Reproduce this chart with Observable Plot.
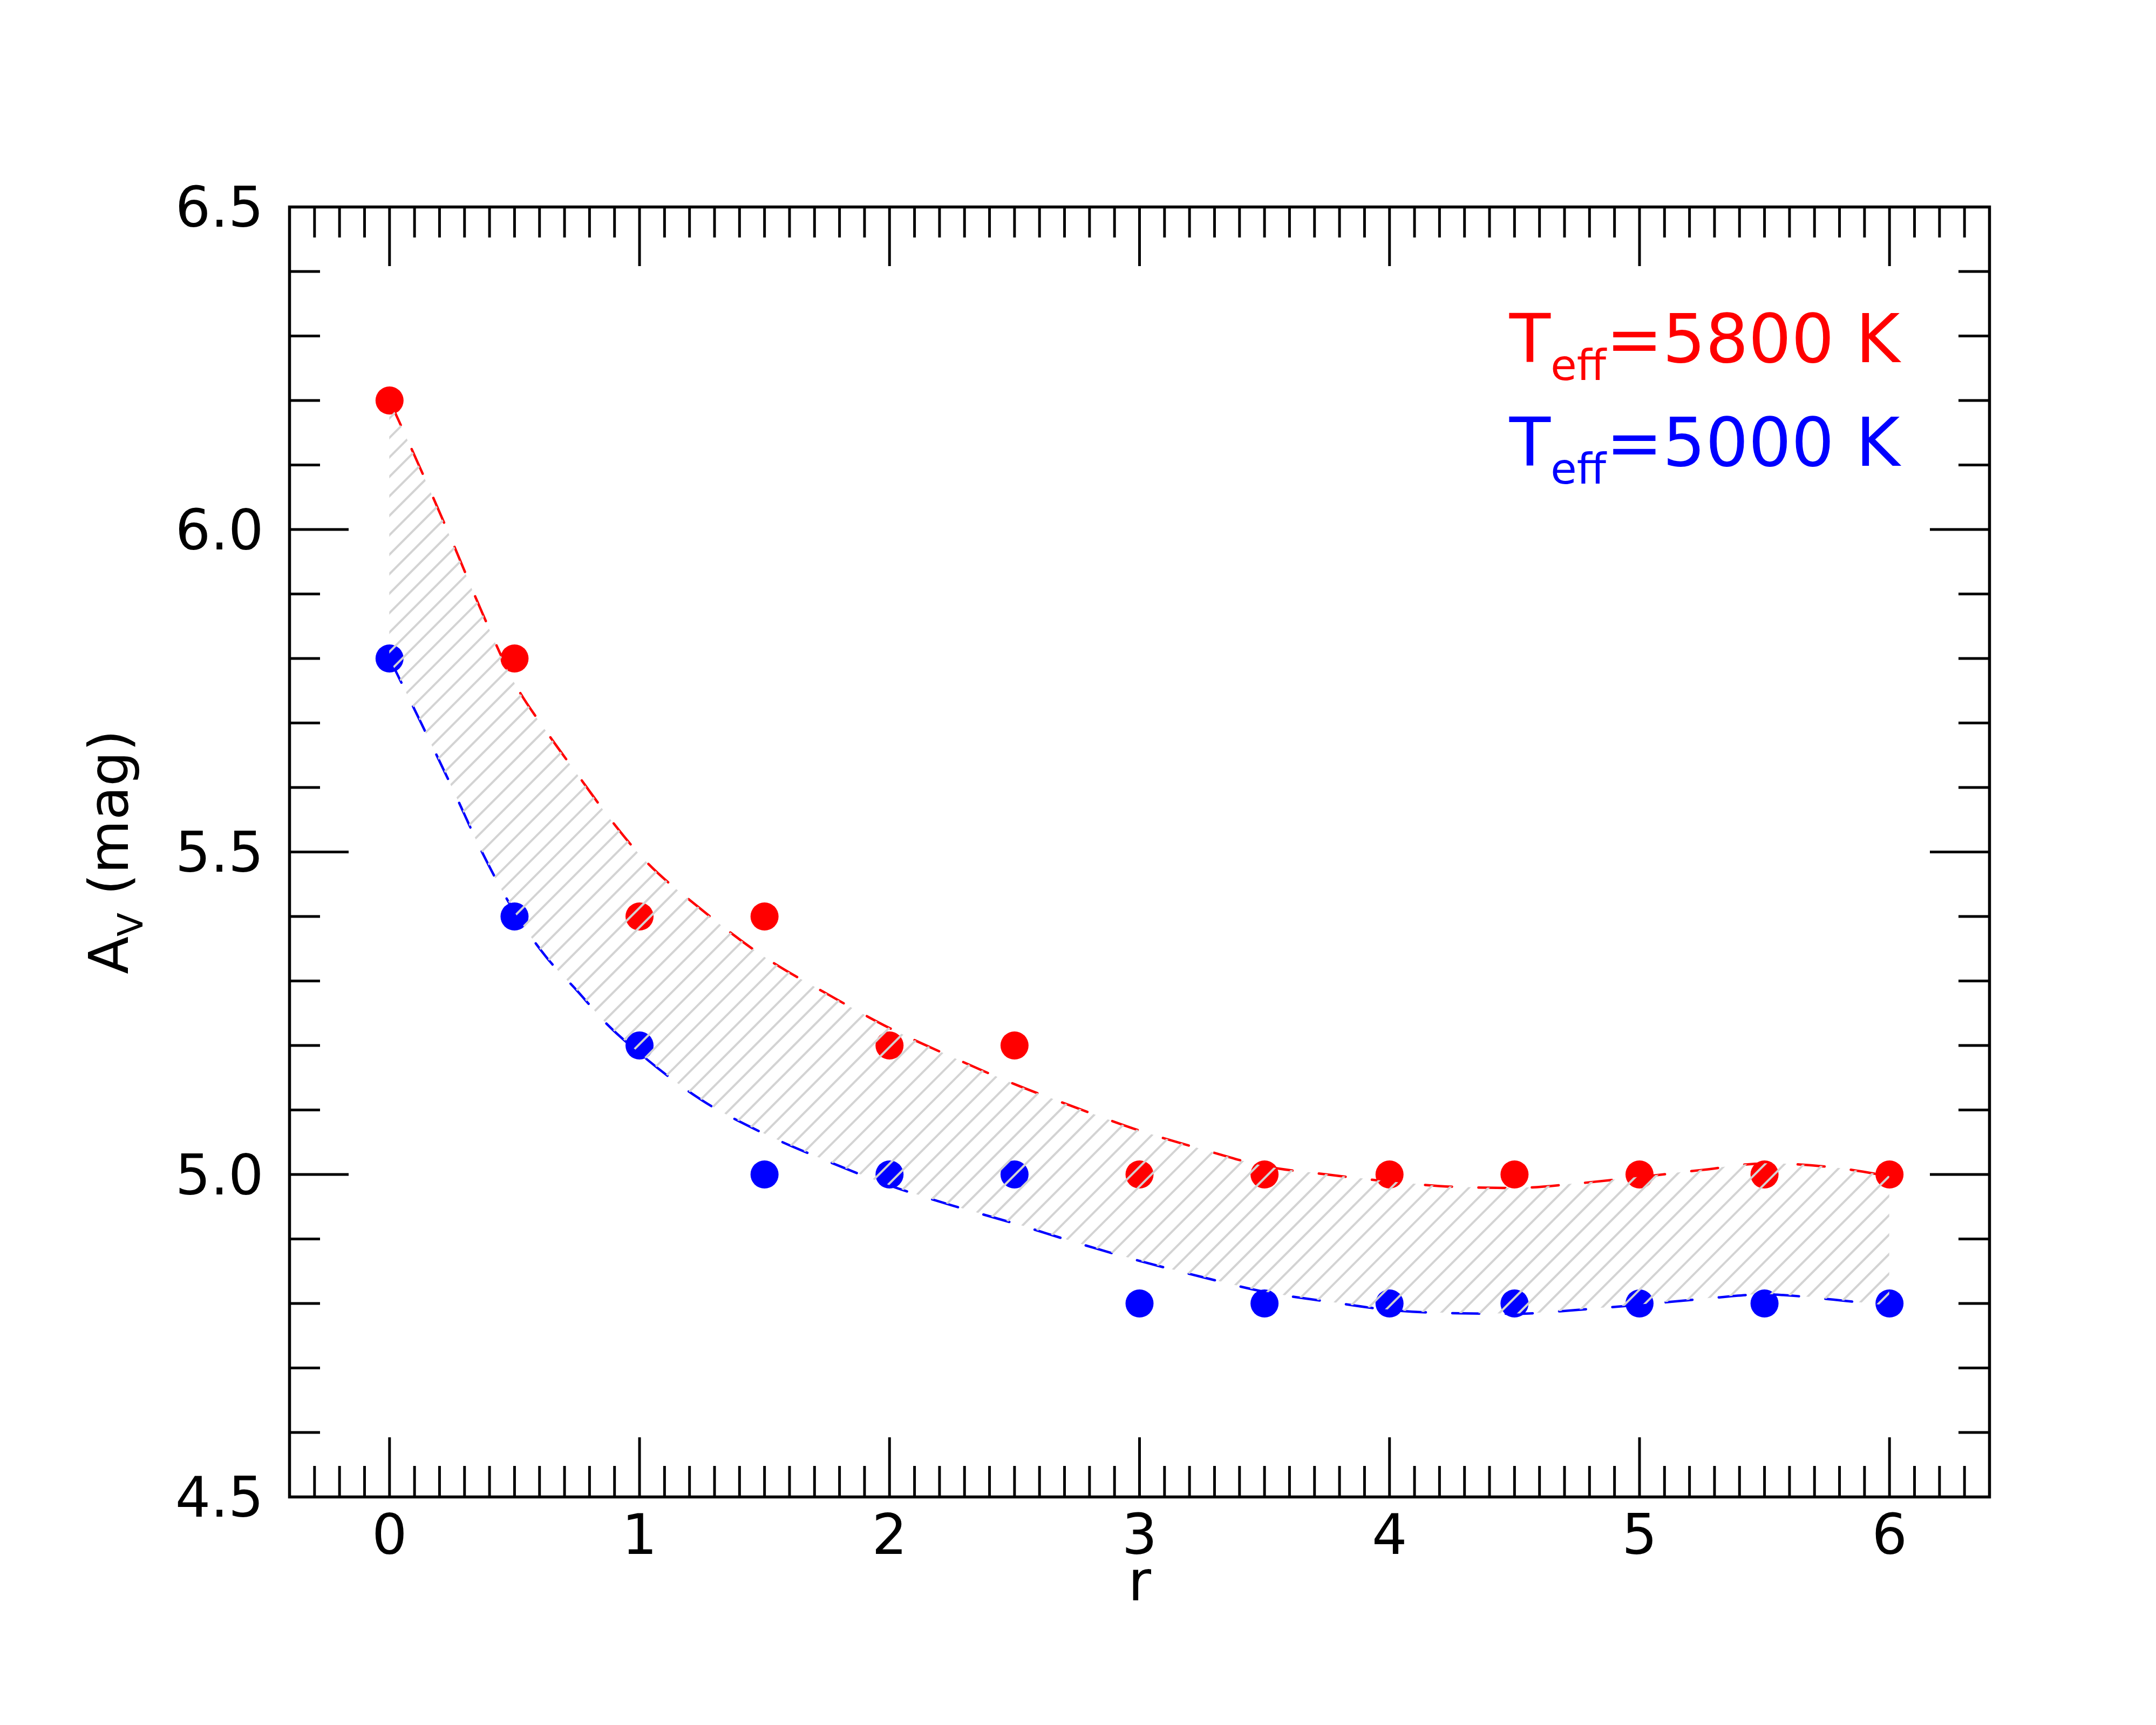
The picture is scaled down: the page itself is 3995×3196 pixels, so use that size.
<!DOCTYPE html>
<html>
<head>
<meta charset="utf-8">
<script src="https://cdn.jsdelivr.net/npm/d3@7"></script>
<script src="https://cdn.jsdelivr.net/npm/@observablehq/plot@0.6"></script>
<style>
  html, body { margin: 0; padding: 0; background: white; }
  svg { display: block; }
</style>
</head>
<body>
<script>
// ---- data ----
const rValues = [0, 0.5, 1, 1.5, 2, 2.5, 3, 3.5, 4, 4.5, 5, 5.5, 6];
const av5800 = [6.2, 5.8, 5.4, 5.4, 5.2, 5.2, 5.0, 5.0, 5.0, 5.0, 5.0, 5.0, 5.0];
const av5000 = [5.8, 5.4, 5.2, 5.0, 5.0, 5.0, 4.8, 4.8, 4.8, 4.8, 4.8, 4.8, 4.8];

// dashed fitted curves
const fitR = [0, 0.125, 0.25, 0.375, 0.5, 0.625, 0.75, 0.875, 1,
  1.25, 1.5, 1.75, 2, 2.25, 2.5, 2.75, 3, 3.25, 3.5, 3.75, 4, 4.25, 4.5, 4.75, 5, 5.25, 5.5, 5.75, 6];
const fit5800 = [6.20, 6.093, 5.982, 5.867, 5.762, 5.688, 5.621, 5.555, 5.496,
  5.41, 5.337, 5.28, 5.227, 5.182, 5.14, 5.103, 5.068, 5.039, 5.013, 5.0, 4.989, 4.981, 4.979, 4.986, 4.996, 5.007, 5.017, 5.012, 4.997];
const fit5000 = [5.80, 5.701, 5.60, 5.496, 5.407, 5.338, 5.285, 5.231, 5.188,
  5.115, 5.063, 5.021, 4.983, 4.952, 4.924, 4.894, 4.866, 4.841, 4.818, 4.803, 4.79, 4.785, 4.784, 4.79, 4.798, 4.807, 4.814, 4.807, 4.796];

// axes
const xDomain = [-0.4, 6.4];
const yDomain = [4.5, 6.5];
const xMajor = [0, 1, 2, 3, 4, 5, 6];
const xMinor = d3.range(-3, 64).filter(i => i % 10 !== 0).map(i => i / 10);
const yMajor = [4.5, 5.0, 5.5, 6.0, 6.5];
const yMinor = d3.range(46, 65).filter(i => i % 5 !== 0).map(i => i / 10);

// legend / labels
const legendHot = {base: "T", sub: "eff", rest: "=5800 K", color: "#ff0000"};
const legendCool = {base: "T", sub: "eff", rest: "=5000 K", color: "#0000ff"};
const yLabel = {base: "A", sub: "V", rest: " (mag)"};
const xLabel = "r";

// ---- build tables ----
const points = rValues.map((r, i) => ({r, hot: av5800[i], cool: av5000[i]}));
const fit = fitR.map((r, i) => ({r, hot: fit5800[i], cool: fit5000[i]}));
const full = d => d.base + d.sub + d.rest;

// ---- layout ----
const W = 3995, H = 3196;
const mL = 536, mR = 309, mT = 383, mB = 423;
const pw = W - mL - mR, ph = H - mT - mB;
const majorLen = 110, minorLen = 57;
const tickW = 5;

const svg = Plot.plot({
  width: W, height: H,
  marginLeft: mL, marginRight: mR, marginTop: mT, marginBottom: mB,
  x: {domain: xDomain, axis: null, label: null},
  y: {domain: yDomain, axis: null, label: null},
  style: {fontFamily: "DejaVu Sans", background: "white", color: "black", overflow: "visible"},
  marks: [
    // fitted dashed curves
    Plot.line(fit, {x: "r", y: "hot", stroke: "#ff0000", strokeWidth: 4.5, strokeDasharray: "50,49", curve: "monotone-x"}),
    Plot.line(fit, {x: "r", y: "cool", stroke: "#0000ff", strokeWidth: 4.5, strokeDasharray: "50,49", curve: "monotone-x"}),
    // points
    Plot.dot(points, {x: "r", y: "hot", r: 26, fill: "#ff0000"}),
    Plot.dot(points, {x: "r", y: "cool", r: 26, fill: "#0000ff"}),
    // hatched band between the two curves
    Plot.areaY(fit, {x: "r", y1: "cool", y2: "hot", fill: "url(#hatch)", curve: "monotone-x"}),
    // inward ticks on all four sides
    Plot.tickX(xMajor, {x: d => d, insetTop: ph - majorLen, stroke: "black", strokeWidth: tickW}),
    Plot.tickX(xMinor, {x: d => d, insetTop: ph - minorLen, stroke: "black", strokeWidth: tickW}),
    Plot.tickX(xMajor, {x: d => d, insetBottom: ph - majorLen, stroke: "black", strokeWidth: tickW}),
    Plot.tickX(xMinor, {x: d => d, insetBottom: ph - minorLen, stroke: "black", strokeWidth: tickW}),
    Plot.tickY(yMajor, {y: d => d, insetRight: pw - majorLen, stroke: "black", strokeWidth: tickW}),
    Plot.tickY(yMinor, {y: d => d, insetRight: pw - minorLen, stroke: "black", strokeWidth: tickW}),
    Plot.tickY(yMajor, {y: d => d, insetLeft: pw - majorLen, stroke: "black", strokeWidth: tickW}),
    Plot.tickY(yMinor, {y: d => d, insetLeft: pw - minorLen, stroke: "black", strokeWidth: tickW}),
    Plot.frame({stroke: "black", strokeWidth: 5.5}),
    // tick labels
    Plot.axisX(xMajor, {anchor: "bottom", label: null, tickSize: 0, tickPadding: 32, fontSize: 103, tickFormat: d => String(d)}),
    Plot.axisY(yMajor, {anchor: "left", label: null, tickSize: 0, tickPadding: 48, fontSize: 103, dy: 4, tickFormat: d3.format(".1f")}),
    // axis labels
    Plot.text([xLabel], {text: d => d, frameAnchor: "bottom", lineAnchor: "bottom", dy: 191, fontSize: 104, fill: "black"}),
    Plot.text([yLabel], {text: full, frameAnchor: "left", rotate: -90, lineAnchor: "bottom", textAnchor: "middle", dx: -300, fontSize: 102, fill: "black"}),
    // legend
    Plot.text([legendHot], {text: full, frameAnchor: "top-right", textAnchor: "end", lineAnchor: "bottom", dx: -166, dy: 287, fill: d => d.color, fontSize: 125}),
    Plot.text([legendCool], {text: full, frameAnchor: "top-right", textAnchor: "end", lineAnchor: "bottom", dx: -166, dy: 479, fill: d => d.color, fontSize: 125})
  ]
});

document.body.appendChild(svg);

// hatch pattern
const ns = "http://www.w3.org/2000/svg";
const defs = document.createElementNS(ns, "defs");
const pat = document.createElementNS(ns, "pattern");
pat.setAttribute("id", "hatch");
pat.setAttribute("patternUnits", "userSpaceOnUse");
pat.setAttribute("width", "25.5");
pat.setAttribute("height", "25.5");
pat.setAttribute("patternTransform", "rotate(45)");
const ln = document.createElementNS(ns, "line");
ln.setAttribute("x1", "12.75"); ln.setAttribute("y1", "-2");
ln.setAttribute("x2", "12.75"); ln.setAttribute("y2", "27.5");
ln.setAttribute("stroke", "#d3d3d3");
ln.setAttribute("stroke-width", "4");
pat.appendChild(ln);
defs.appendChild(pat);
svg.insertBefore(defs, svg.firstChild);

// subscripts as real tspans
function subscriptify(textEl, parts, fs) {
  const shift = 0.27 * fs;
  while (textEl.firstChild) textEl.removeChild(textEl.firstChild);
  textEl.appendChild(document.createTextNode(parts.base));
  const s = document.createElementNS(ns, "tspan");
  s.setAttribute("font-size", (0.63 * fs).toFixed(1));
  s.setAttribute("dy", shift.toFixed(1));
  s.textContent = parts.sub;
  textEl.appendChild(s);
  const r = document.createElementNS(ns, "tspan");
  r.setAttribute("dy", (-shift).toFixed(1));
  r.textContent = parts.rest;
  textEl.appendChild(r);
}
svg.querySelectorAll("text").forEach(t => {
  const s = t.textContent;
  if (s === full(yLabel)) subscriptify(t, yLabel, 102);
  else if (s === full(legendHot)) subscriptify(t, legendHot, 125);
  else if (s === full(legendCool)) subscriptify(t, legendCool, 125);
});
</script>
</body>
</html>
